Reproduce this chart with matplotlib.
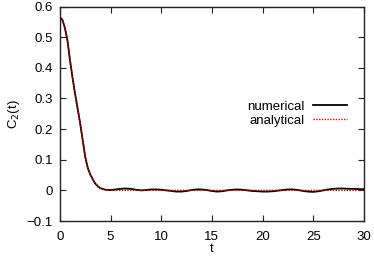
import matplotlib
matplotlib.use("Agg")
import matplotlib.pyplot as plt

plt.rcParams['font.family'] = ['Liberation Sans', 'DejaVu Sans']
plt.rcParams['axes.unicode_minus'] = True

t_num = [0, 0.25, 0.5, 0.75, 1.0, 1.25, 1.5, 1.75, 2.0, 2.25, 2.5, 2.75, 3.0, 3.25,
         3.5, 3.75, 4.0, 4.5, 5.0, 5.5, 6.0, 6.5, 7.0, 7.5, 8.0, 8.5, 9.0, 9.5, 10.0,
         10.5, 11.0, 11.5, 12.0, 12.5, 13.0, 13.5, 14.0, 14.5, 15.0, 15.5, 16.0, 16.5,
         17.0, 17.5, 18.0, 18.5, 19.0, 19.5, 20.0, 20.5, 21.0, 21.5, 22.0, 22.5, 23.0,
         23.5, 24.0, 24.5, 25.0, 25.5, 26.0, 26.5, 27.0, 27.5, 28.0, 28.5, 29.0, 29.5, 30.0]
c_num = [0.565, 0.557, 0.530, 0.490, 0.425, 0.368, 0.316, 0.268, 0.220, 0.165, 0.110,
         0.074, 0.052, 0.036, 0.022, 0.013, 0.007, 0.002, 0.001, 0.003, 0.005, 0.006,
         0.005, 0.002, 0.000, 0.001, 0.003, 0.003, 0.002, 0.000, -0.002, -0.004, -0.004,
         -0.002, 0.001, 0.003, 0.003, 0.001, -0.002, -0.004, -0.003, 0.000, 0.002,
         0.003, 0.002, 0.000, -0.002, -0.003, -0.004, -0.004, -0.003, -0.001, 0.001,
         0.003, 0.003, 0.001, -0.002, -0.004, -0.005, -0.003, 0.000, 0.003, 0.005,
         0.006, 0.006, 0.005, 0.005, 0.004, 0.004]

t_ana = [0, 0.25, 0.5, 0.75, 1.0, 1.25, 1.5, 1.75, 2.0, 2.25, 2.5, 2.75, 3.0, 3.25,
         3.5, 3.75, 4.0, 4.5, 5.0, 6.0, 30.0]
c_ana = [0.565, 0.557, 0.530, 0.490, 0.425, 0.368, 0.316, 0.268, 0.220, 0.165, 0.110,
         0.074, 0.052, 0.036, 0.022, 0.013, 0.007, 0.002, 0.000, 0.000, 0.000]

x_ticks = [0, 5, 10, 15, 20, 25, 30]
y_ticks = [-0.1, 0, 0.1, 0.2, 0.3, 0.4, 0.5, 0.6]

fig = plt.figure(figsize=(3.74, 2.60), dpi=100)
ax = fig.add_axes([0.160, 0.150, 0.813, 0.825])

ax.plot(t_num, c_num, color='black', lw=1.3, label='numerical')
ax.plot(t_ana, c_ana, color='#cc0000', lw=1.0, ls=(0, (1, 1)), label='analytical')

ax.set_xlim(0, 30)
ax.set_ylim(-0.1, 0.6)
ax.set_xticks(x_ticks)
ax.set_yticks(y_ticks)
ax.set_yticklabels(['\u22120.1', '0', '0.1', '0.2', '0.3', '0.4', '0.5', '0.6'])
ax.tick_params(direction='in', length=4, width=0.8, top=True, right=True,
               labelsize=9.5, pad=5, color='#222222')
ax.tick_params(axis='x', pad=7)
for s in ax.spines.values():
    s.set_linewidth(1.0)
    s.set_color('#222222')

ax.set_xlabel('t', fontsize=9.5, labelpad=0)
ax.set_ylabel('C$_2$(t)', fontsize=9.5, labelpad=3)

leg = ax.legend(loc='center right', bbox_to_anchor=(0.944, 0.501), frameon=False,
                fontsize=9.5, markerfirst=False, handlelength=2.6, handletextpad=0.6,
                labelspacing=0.15, borderaxespad=0, borderpad=0)
for txt in leg.get_texts():
    txt.set_ha('right')

fig.savefig('out.png', dpi=100)
